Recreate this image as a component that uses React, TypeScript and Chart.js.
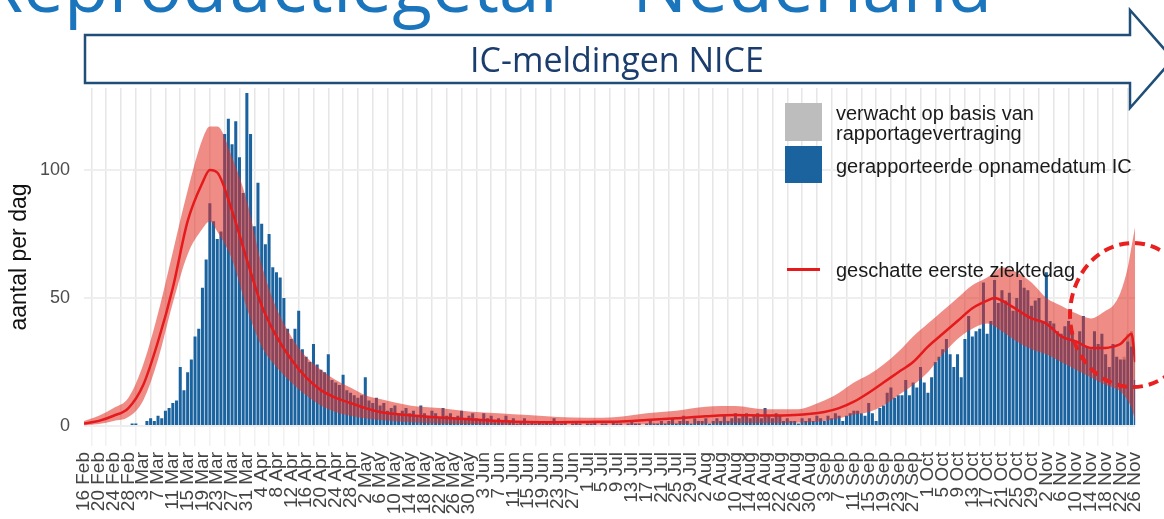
import React, { useEffect, useRef } from 'react';
import { Chart, registerables } from 'chart.js';

Chart.register(...registerables);

// x tick labels, one every 4 days starting 16 Feb (day 0) up to 26 Nov (day 284)
const tickLabels = [
  '16 Feb', '20 Feb', '24 Feb', '28 Feb', '3 Mar', '7 Mar', '11 Mar', '15 Mar', '19 Mar', '23 Mar',
  '27 Mar', '31 Mar', '4 Apr', '8 Apr', '12 Apr', '16 Apr', '20 Apr', '24 Apr', '28 Apr', '2 May',
  '6 May', '10 May', '14 May', '18 May', '22 May', '26 May', '30 May', '3 Jun', '7 Jun', '11 Jun',
  '15 Jun', '19 Jun', '23 Jun', '27 Jun', '1 Jul', '5 Jul', '9 Jul', '13 Jul', '17 Jul', '21 Jul',
  '25 Jul', '29 Jul', '2 Aug', '6 Aug', '10 Aug', '14 Aug', '18 Aug', '22 Aug', '26 Aug', '30 Aug',
  '3 Sep', '7 Sep', '11 Sep', '15 Sep', '19 Sep', '23 Sep', '27 Sep', '1 Oct', '5 Oct', '9 Oct',
  '13 Oct', '17 Oct', '21 Oct', '25 Oct', '29 Oct', '2 Nov', '6 Nov', '10 Nov', '14 Nov', '18 Nov',
  '22 Nov', '26 Nov',
];

// reported IC admissions per day (day 0 = 16 Feb)
const icReported = [
  0, 0, 0, 0, 0, 0, 0, 0, 0, 0,
  0, 0, 0, 1, 1, 0, 0, 2, 3, 2,
  4, 3, 6, 7, 9, 10, 23, 14, 21, 26,
  35, 38, 54, 65, 87, 80, 73, 76, 114, 120,
  110, 119, 105, 91, 130, 114, 78, 95, 79, 71,
  75, 62, 60, 58, 50, 38, 34, 38, 45, 30,
  27, 25, 32, 24, 22, 21, 28, 18, 17, 16,
  20, 14, 13, 12, 11, 12, 19, 10, 9, 11,
  8, 9, 6, 7, 8, 5, 6, 7, 5, 6,
  4, 8, 5, 4, 6, 5, 3, 7, 4, 5,
  3, 4, 6, 3, 4, 5, 3, 2, 5, 3,
  4, 2, 3, 2, 4, 2, 3, 1, 2, 3,
  1, 2, 1, 2, 1, 2, 1, 3, 1, 1,
  2, 0, 1, 2, 1, 0, 1, 1, 2, 0,
  1, 1, 0, 2, 1, 1, 0, 1, 2, 1,
  1, 0, 1, 2, 1, 1, 2, 1, 2, 3,
  1, 2, 4, 2, 1, 3, 2, 2, 3, 1,
  2, 3, 2, 4, 2, 3, 5, 3, 4, 5,
  3, 4, 5, 3, 7, 4, 3, 5, 4, 2,
  3, 2, 2, 1, 3, 2, 3, 2, 4, 3,
  2, 4, 3, 5, 4, 2, 4, 5, 6, 6,
  5, 4, 9, 5, 2, 7, 8, 13, 15, 11,
  12, 12, 18, 12, 17, 15, 23, 17, 13, 19,
  25, 27, 30, 34, 28, 23, 28, 19, 34, 43,
  35, 37, 38, 56, 36, 41, 57, 48, 53, 49,
  52, 45, 50, 57, 54, 53, 47, 49, 50, 41,
  60, 41, 40, 37, 36, 39, 41, 37, 31, 37,
  43, 31, 30, 37, 32, 36, 28, 23, 32, 27,
  26, 26, 33, 31, 18,
];

// expected extra admissions due to reporting delay (last days)
const expectedDays = [281, 282, 283, 284];
const expectedExtra = [1, 3, 6, 12];

// estimated first day of illness: curve with uncertainty band
const curveDays = [
  0, 4, 8, 12, 16, 20, 24, 28, 32, 34, 36, 40, 44, 48, 52, 56, 60, 64, 68, 72,
  76, 80, 88, 96, 104, 112, 120, 128, 136, 144, 152, 160, 168, 176, 184, 192, 200, 204, 208, 212,
  216, 220, 224, 228, 232, 236, 240, 244, 246, 248, 252, 256, 260, 264, 268, 272, 276, 278, 280, 282,
  283, 284,
];
const sickDayEstimate = [
  1, 2, 4, 7, 16, 33, 54, 80, 95, 100, 99, 84, 65, 47, 35, 26, 19, 14, 11, 9,
  7, 5.5, 4.2, 3.3, 2.6, 2, 1.6, 1.5, 1.6, 1.7, 2.3, 3, 3.8, 4.3, 4.1, 4.3, 5.5, 7, 9.5, 13,
  17, 21, 25, 31, 36, 41, 46, 49, 50, 49, 45.5, 42, 40, 35, 33, 30.5, 30.5, 31, 32, 35,
  36, 25,
];
const sickDayUpper = [
  2, 4, 7, 11, 24, 44, 68, 92, 112, 117, 117, 105, 88, 63, 46, 35, 27, 22, 18, 15,
  12, 10.5, 8, 7, 5.7, 5, 4.3, 3.5, 3.2, 3.5, 5, 6, 7.5, 7.8, 6.5, 6.5, 10, 13, 17, 20,
  24, 29, 35, 40, 45, 50, 55, 58, 60, 62, 60, 56, 50, 47, 44, 42, 45, 47, 52, 62,
  70, 78,
];
const sickDayLower = [
  0.3, 0.8, 2, 3.5, 10, 26, 48, 67, 77, 80, 76, 65, 46, 31, 23, 17, 12, 8, 5.5, 4,
  3, 2.3, 1.5, 1, 0.8, 0.6, 0.5, 0.5, 0.5, 0.5, 0.6, 0.8, 1, 1.2, 1.2, 1.3, 2, 3, 4.5, 5.5,
  8, 12, 16, 21, 28, 34, 38, 40, 39, 37, 33, 30, 28, 25, 22, 19, 16, 15, 13.5, 10,
  7, 2,
];

const yTicks = [0, 50, 100];

const FONT = "'Liberation Sans', Arial, Helvetica, sans-serif";

export default function App() {
  const canvasRef = useRef<HTMLCanvasElement>(null);

  useEffect(() => {
    if (!canvasRef.current) return;
    Chart.defaults.font.family = FONT;
    const chart = new Chart(canvasRef.current, {
      type: 'bar',
      data: {
        datasets: [
          {
            type: 'bar',
            label: 'gerapporteerde opnamedatum IC',
            data: icReported.map((v, i) => ({ x: i, y: v })),
            backgroundColor: '#1b639f',
            borderWidth: 0,
            barPercentage: 0.82,
            categoryPercentage: 1,
            grouped: false,
            order: 3,
          } as any,
          {
            type: 'bar',
            label: 'verwacht op basis van rapportagevertraging',
            data: expectedDays.map((d, k) => ({ x: d, y: [icReported[d], icReported[d] + expectedExtra[k]] })),
            backgroundColor: '#bdbdbd',
            borderWidth: 0,
            barPercentage: 0.82,
            categoryPercentage: 1,
            grouped: false,
            order: 3,
          } as any,
          {
            type: 'line',
            label: 'lower',
            data: curveDays.map((d, k) => ({ x: d, y: sickDayLower[k] })),
            borderColor: 'transparent',
            borderWidth: 0,
            pointRadius: 0,
            fill: false,
            cubicInterpolationMode: 'monotone',
            order: 2,
          } as any,
          {
            type: 'line',
            label: 'upper',
            data: curveDays.map((d, k) => ({ x: d, y: sickDayUpper[k] })),
            borderColor: 'transparent',
            borderWidth: 0,
            backgroundColor: 'rgba(228,45,35,0.55)',
            pointRadius: 0,
            fill: '-1',
            cubicInterpolationMode: 'monotone',
            order: 2,
          } as any,
          {
            type: 'line',
            label: 'geschatte eerste ziektedag',
            data: curveDays.map((d, k) => ({ x: d, y: sickDayEstimate[k] })),
            borderColor: '#e41a1c',
            borderWidth: 2.5,
            pointRadius: 0,
            fill: false,
            cubicInterpolationMode: 'monotone',
            order: 1,
          } as any,
        ],
      },
      options: {
        animation: false,
        responsive: false,
        devicePixelRatio: 1,
        events: [],
        layout: { padding: { left: 0, top: 88, right: 7, bottom: 0 }, autoPadding: false },
        plugins: { legend: { display: false }, tooltip: { enabled: false } },
        scales: {
          x: {
            type: 'linear',
            min: 0,
            max: 284,
            offset: false,
            border: { display: false },
            grid: { color: '#e6e6e6', lineWidth: 1.5, drawTicks: true, tickLength: 20, tickColor: '#f1f1f1' },
            afterBuildTicks: (s: any) => {
              s.ticks = tickLabels.map((_, i) => ({ value: i * 4 }));
            },
            afterFit: (s: any) => {
              s.height = 93;
            },
            ticks: {
              autoSkip: false,
              maxRotation: 90,
              minRotation: 90,
              padding: 6,
              color: '#444444',
              font: { family: FONT, size: 19 },
              callback: (_v: any, i: number) => tickLabels[i],
            },
          },
          y: {
            min: 0,
            max: 132,
            border: { display: false },
            grid: { color: '#eeeeee', lineWidth: 2, drawTicks: false },
            afterBuildTicks: (s: any) => {
              s.ticks = yTicks.map((v) => ({ value: v }));
            },
            afterFit: (s: any) => {
              s.width = 84;
            },
            ticks: {
              padding: 14,
              color: '#4d4d4d',
              font: { family: FONT, size: 18 },
            },
            title: {
              display: true,
              text: 'aantal per dag',
              color: '#111111',
              font: { family: FONT, size: 23 },
              padding: { top: 6, bottom: 0 },
            },
          },
        },
      } as any,
    });
    return () => chart.destroy();
  }, []);

  const legendText: React.CSSProperties = {
    position: 'absolute',
    left: 836,
    fontFamily: FONT,
    fontSize: 20,
    lineHeight: '20px',
    color: '#1a1a1a',
    whiteSpace: 'nowrap',
  };

  return (
    <div style={{ position: 'fixed', left: 0, top: 0, width: 1164, height: 519, background: '#ffffff', overflow: 'hidden' }}>
      <canvas ref={canvasRef} width={1164} height={519} style={{ position: 'absolute', left: 0, top: 0 }} />

      <div
        style={{
          position: 'absolute',
          left: -22,
          top: -53,
          fontFamily: "'Open Sans', sans-serif",
          fontSize: 73,
          lineHeight: '73px',
          color: '#1b75bc',
          whiteSpace: 'nowrap',
        }}
      >
        Reproductiegetal – Nederland
      </div>

      <svg width={1164} height={519} style={{ position: 'absolute', left: 0, top: 0, pointerEvents: 'none' }}>
        <path
          d="M85 35 L1130 35 L1130 10 L1173 59 L1130 108 L1130 83 L85 83 Z"
          fill="#ffffff"
          stroke="#1f4e79"
          strokeWidth={2.5}
          strokeLinejoin="miter"
        />
        <ellipse cx={1133} cy={315} rx={63} ry={72} fill="none" stroke="#e8201f" strokeWidth={4} strokeDasharray="10 6" />
      </svg>

      <div
        style={{
          position: 'absolute',
          left: 417,
          width: 400,
          top: 35,
          height: 48,
          lineHeight: '48px',
          textAlign: 'center',
          fontFamily: "'Open Sans', sans-serif",
          fontSize: 34,
          color: '#1a3d6d',
          whiteSpace: 'nowrap',
        }}
      >
        IC-meldingen NICE
      </div>

      <div style={{ position: 'absolute', left: 785, top: 103, width: 37, height: 38, background: '#bdbdbd' }} />
      <div style={{ position: 'absolute', left: 785, top: 146, width: 37, height: 37, background: '#1b639f' }} />
      <div style={{ position: 'absolute', left: 787, top: 268, width: 33, height: 3, background: '#e41a1c' }} />
      <div style={{ ...legendText, top: 103 }}>verwacht op basis van</div>
      <div style={{ ...legendText, top: 123 }}>rapportagevertraging</div>
      <div style={{ ...legendText, top: 156 }}>gerapporteerde opnamedatum IC</div>
      <div style={{ ...legendText, top: 260 }}>geschatte eerste ziektedag</div>
    </div>
  );
}
